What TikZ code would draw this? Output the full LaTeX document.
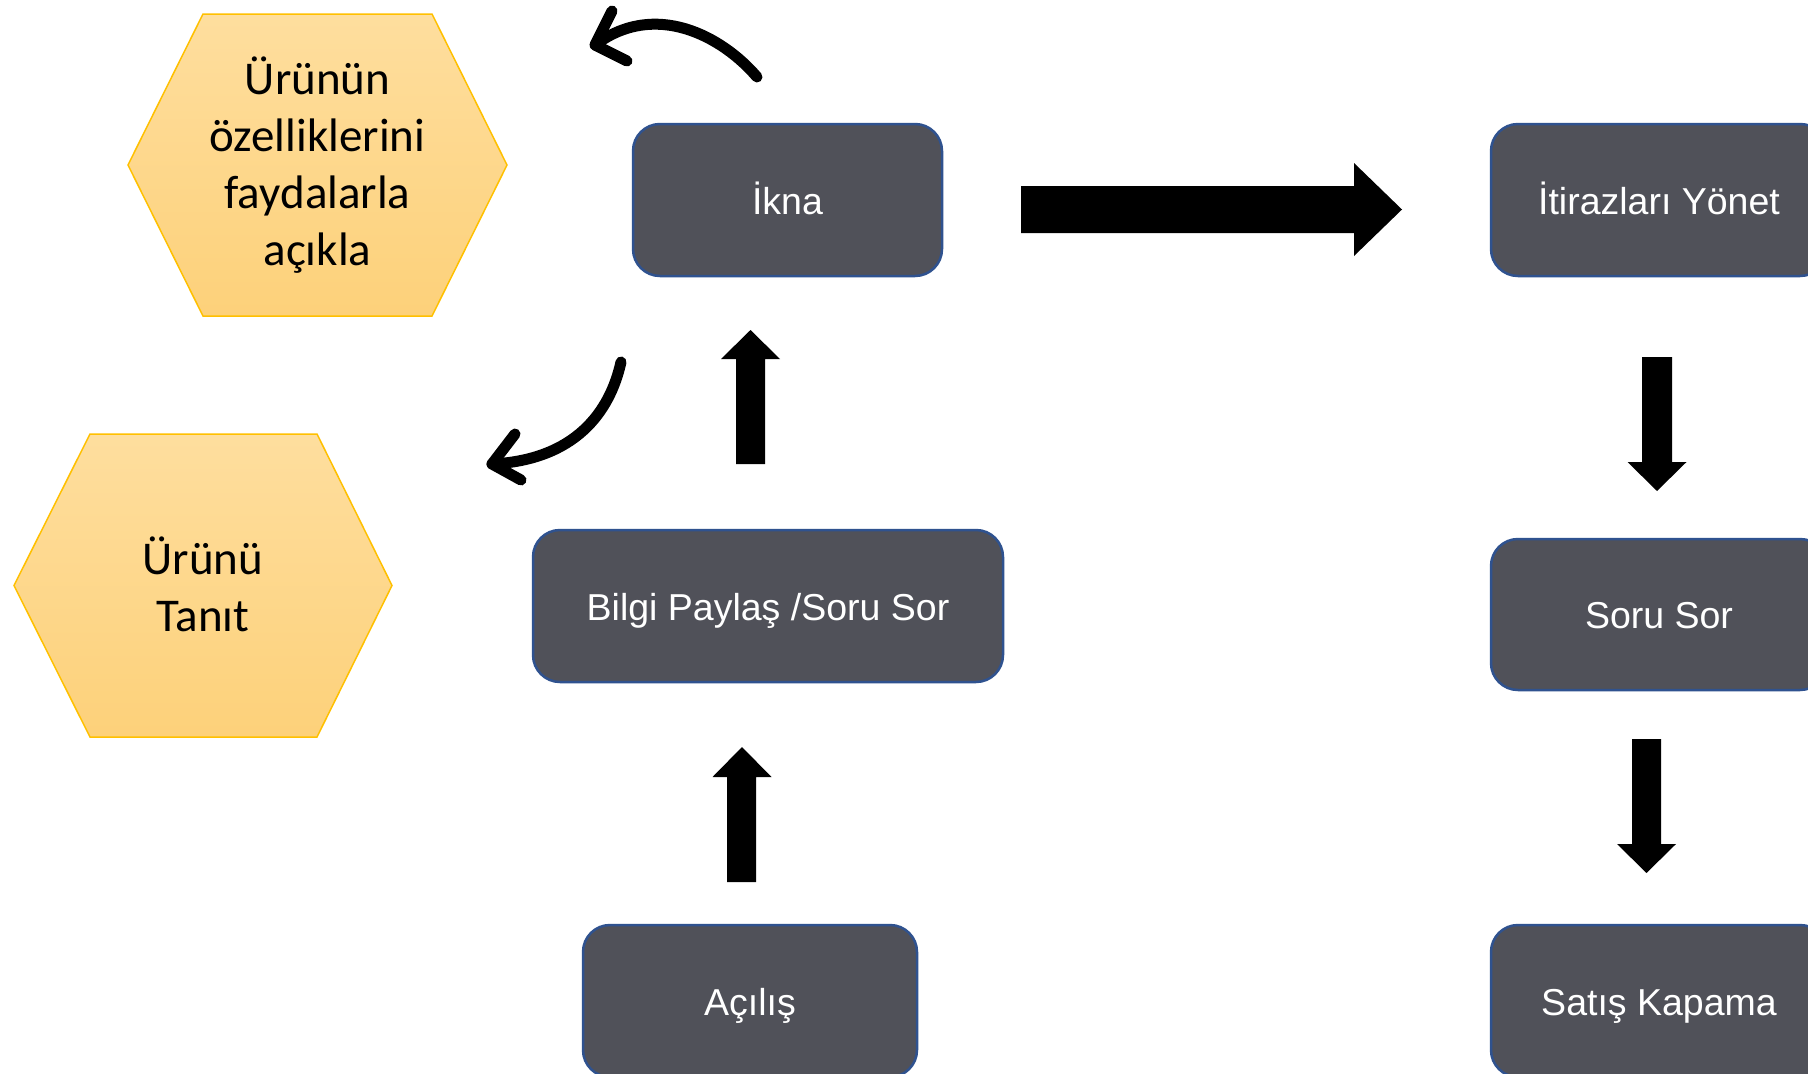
\documentclass[tikz,border=0pt]{standalone}
\usepackage{fontspec}
\setmainfont{Liberation Sans}
\newfontfamily\calibri{Carlito}
\definecolor{boxfill}{RGB}{80,81,89}
\definecolor{boxline}{RGB}{47,82,143}
\definecolor{hextop}{RGB}{254,222,158}
\definecolor{hexbot}{RGB}{253,209,122}
\definecolor{hexline}{RGB}{255,192,0}
\begin{document}
\begin{tikzpicture}[x=1pt,y=-1pt,
 stepbox/.style={draw=boxline, line width=2.5pt, fill=boxfill, rounded corners=27pt,
   text=white, font=\fontsize{37.5}{45}\selectfont, inner sep=0pt, minimum height=152pt,
   text height=38pt, text depth=10pt},
 hexshape/.style={draw=hexline, line width=1.5pt, top color=hextop, bottom color=hexbot},
 hextext/.style={font=\calibri\fontsize{47}{57}\selectfont, align=center, text=black},
 blockarrow/.style={fill=black},
 curvearrow/.style={line width=11pt, line cap=round, line join=round}
]
\useasboundingbox[fill=white] (0,0) rectangle (1808,1074);

% hexagons
\path[hexshape] (128,165) -- (203,14) -- (432,14) -- (507,165) -- (432,316) -- (203,316) -- cycle;
\node[hextext] (hexA) at (317.5,165) {Ürünün\\özelliklerini\\faydalarla\\açıkla};
\path[hexshape] (14,585.5) -- (90,434) -- (317,434) -- (392,585.5) -- (317,737) -- (90,737) -- cycle;
\node[hextext] (hexB) at (203,584) {Ürünü\\Tanıt};

% boxes
\node[stepbox, minimum width=309pt] (ikna) at (787.5,200) {İkna};
\node[stepbox, minimum width=336pt] (itiraz) at (1659,200) {İtirazları Yönet};
\node[stepbox, minimum width=470pt] (bilgi) at (768,606) {Bilgi Paylaş /Soru Sor};
\node[stepbox, minimum width=336pt, minimum height=151pt] (soru) at (1659,614.5) {Soru Sor};
\node[stepbox, minimum width=334pt] (acilis) at (750,1001) {Açılış};
\node[stepbox, minimum width=336pt] (satis) at (1659,1001) {Satış Kapama};

% block arrows
\fill[blockarrow] (1021,186) -- (1354,186) -- (1354,163) -- (1402,209.5) -- (1354,256) -- (1354,233) -- (1021,233) -- cycle;
\fill[blockarrow] (736,464) -- (736,359) -- (721,359) -- (750.5,330) -- (780,359) -- (765,359) -- (765,464) -- cycle;
\fill[blockarrow] (727,882) -- (727,777) -- (712.5,777) -- (742,747) -- (771.5,777) -- (756,777) -- (756,882) -- cycle;
\fill[blockarrow] (1642,357) -- (1642,462) -- (1627.5,462) -- (1657,491) -- (1686.5,462) -- (1672,462) -- (1672,357) -- cycle;
\fill[blockarrow] (1632,739) -- (1632,844) -- (1617,844) -- (1646.5,873) -- (1676,844) -- (1661,844) -- (1661,739) -- cycle;

% curved arrows
\coordinate (c1s) at (757,77);
\coordinate (c1e) at (595,45);
\coordinate (c1a) at (612,11);
\coordinate (c1b) at (627,61);
\draw[curvearrow] (c1s) .. controls (722,36) and (655,0) .. (c1e);
\draw[curvearrow] (c1a) -- (c1e) -- (c1b);

\coordinate (c2s) at (621,362);
\coordinate (c2e) at (492,464);
\coordinate (c2a) at (515,434);
\coordinate (c2b) at (521,480);
\draw[curvearrow] (c2s) .. controls (610,412) and (575,460) .. (c2e);
\draw[curvearrow] (c2a) -- (c2e) -- (c2b);
\end{tikzpicture}
\end{document}
